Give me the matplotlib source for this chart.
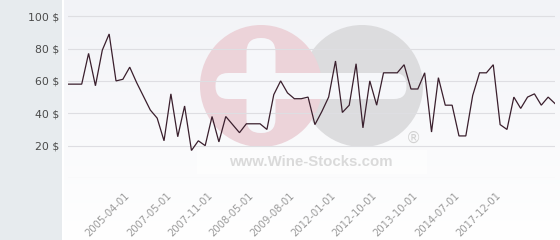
import numpy as np
import matplotlib
matplotlib.use("Agg")
import matplotlib.pyplot as plt
from matplotlib.patches import Circle, FancyBboxPatch, Rectangle

# ---- data ----
prices = [58, 58, 58, 77, 57, 79, 89, 60, 61, 68.5,
          59, 50.5, 42, 37, 23, 52, 25.5, 44.5, 17, 23,
          20, 38, 22.3, 38, 33, 28, 33.5, 33.5, 33.5, 30,
          51.5, 60, 52.6, 49, 49, 50, 33, 41, 50, 72.3,
          40.5, 45, 70.6, 31, 60, 45, 65, 65, 65, 70,
          55, 55, 65, 28.4, 62, 45, 45, 26, 26, 51,
          65, 65, 70, 33, 30, 50, 43, 50, 52, 45,
          50, 46]
tick_index = [9, 15, 21, 27, 33, 39, 45, 51, 57, 63]
tick_labels = ["2005-04-01", "2007-05-01", "2007-11-01", "2008-05-01", "2009-08-01",
               "2012-01-01", "2012-10-01", "2013-10-01", "2014-07-01", "2017-12-01"]
y_ticks = [0, 20, 40, 60, 80, 100]
y_labels = ["", "20 $", "40 $", "60 $", "80 $", "100 $"]

W, H = 560, 240
fig = plt.figure(figsize=(W / 100, H / 100), dpi=100)
fig.patch.set_facecolor("white")

# ---- background layer in pixel coordinates ----
bg = fig.add_axes([0, 0, 1, 1], zorder=0)
bg.set_xlim(0, W)
bg.set_ylim(H, 0)
bg.axis("off")
grad = np.linspace(0, 1, 256).reshape(-1, 1)
top = np.array([242, 243, 247]) / 255
bot = np.array([255, 255, 255]) / 255
img = top[None, None, :] * (1 - grad[:, :, None]) + bot[None, None, :] * grad[:, :, None]
bg.imshow(img, extent=[63, W, H, 0], aspect="auto", zorder=0)
bg.add_patch(Rectangle((0, 0), 62, H, color="#e7ebee", zorder=1, lw=0))
bg.add_patch(Rectangle((62, 0), 1.5, H, color="#ffffff", zorder=1, lw=0))

# watermark logo
bg.add_patch(Circle((362, 86), 61, color="#dcdcde", zorder=2, lw=0))
bg.add_patch(Circle((261, 86), 61, color="#ecd3d9", zorder=2, lw=0))
white = "#f6f7fa"
bg.add_patch(FancyBboxPatch((228, 86 - 0.5), 166, 1, boxstyle="round,pad=12.5",
                            color=white, zorder=3, lw=0))
bg.add_patch(FancyBboxPatch((261 - 0.5, 52), 1, 67, boxstyle="round,pad=14",
                            color=white, zorder=3, lw=0))
bg.add_patch(Rectangle((197, 150), 230, 24, color="#ffffff", alpha=0.6, zorder=3, lw=0))
bg.text(311, 162, "www.Wine-Stocks.com", fontsize=10.8, fontweight="bold",
        family="Liberation Sans", color="#dadada", ha="center", va="center", zorder=4)
bg.text(413, 138, "\u00ae", fontsize=11, color="#d2d2d2", ha="center", va="center", zorder=4)

# ---- main chart ----
left, right, top_px, bottom_px = 68, 555, 0, 178
ax = fig.add_axes([left / W, (H - bottom_px) / H, (right - left) / W, (bottom_px - top_px) / H],
                  zorder=5)
ax.patch.set_alpha(0)
x = np.arange(len(prices))
ax.plot(x, prices, color="#3a1f2d", lw=0.9, solid_joinstyle="miter", zorder=3)
ax.set_xlim(0, len(prices) - 1)
ax.set_ylim(0, 110)

ax.set_yticks(y_ticks)
ax.set_yticklabels(y_labels, fontsize=7.8, color="#4a4a4a")
ax.tick_params(axis="y", length=0, pad=6.5)
ax.grid(axis="y", color="#dedee2", lw=0.8)
ax.set_axisbelow(True)

ax.set_xticks([])
for i, lab in zip(tick_index, tick_labels):
    ax.annotate(lab, xy=(i, 0), xycoords="data", xytext=(-1, -11.5), textcoords="offset points",
                ha="right", va="center", rotation=45, rotation_mode="anchor",
                fontsize=7.2, color="#9a9a9a", annotation_clip=False)

for s in ax.spines.values():
    s.set_visible(False)

fig.savefig("out.png", dpi=100, facecolor=fig.get_facecolor())
